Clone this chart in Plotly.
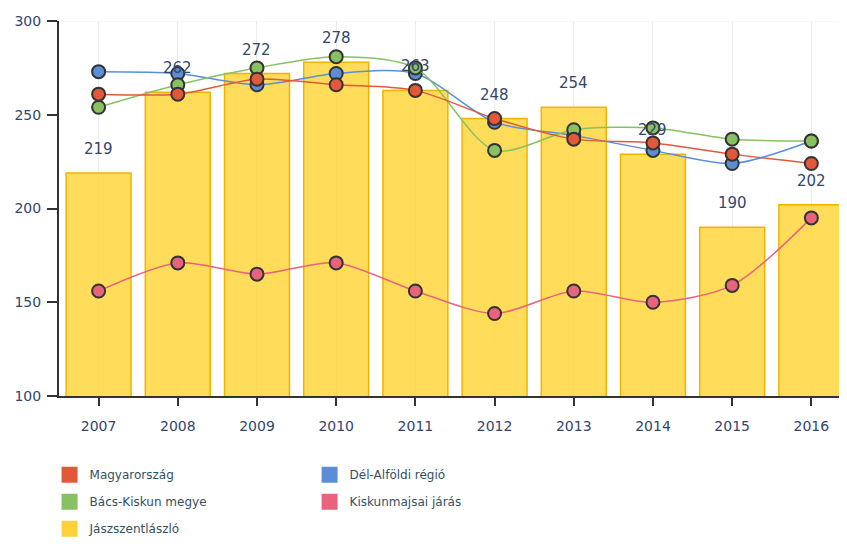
import plotly.graph_objects as go

years = ["2007", "2008", "2009", "2010", "2011", "2012", "2013", "2014", "2015", "2016"]
jasz = [219, 262, 272, 278, 263, 248, 254, 229, 190, 202]
magyar = [261, 261, 269, 266, 263, 248, 237, 235, 229, 224]
delalfold = [273, 272, 266, 272, 272, 246, 239, 231, 224, 236]
bacs = [254, 266, 275, 281, 275, 231, 242, 243, 237, 236]
kiskun = [156, 171, 165, 171, 156, 144, 156, 150, 159, 195]
y_ticks = [100, 150, 200, 250, 300]

C_RED = "#e4583a"
C_BLUE = "#5a8fd8"
C_GREEN = "#88c064"
C_PINK = "#e8647c"
C_YEL = "#ffd13a"
TXT = "#34466b"

fig = go.Figure()
fig.add_trace(go.Bar(
    x=years, y=jasz, width=0.82, showlegend=False,
    marker=dict(color="rgba(255,214,60,0.85)", line=dict(color="#f0b400", width=1.5)),
))

def line(vals, color):
    fig.add_trace(go.Scatter(
        x=years, y=vals, mode="lines+markers", showlegend=False,
        line=dict(color=color, width=1.5, shape="spline", smoothing=0.8),
        marker=dict(size=13, color=color, line=dict(color="#333333", width=2)),
        cliponaxis=False,
    ))

line(delalfold, C_BLUE)
line(bacs, C_GREEN)
line(magyar, C_RED)
line(kiskun, C_PINK)

for i, v in enumerate(jasz):
    fig.add_annotation(x=i, y=v, text=str(v), showarrow=False, yanchor="bottom",
                       yshift=13, font=dict(size=15, color=TXT, family="DejaVu Sans"))

legend_items = [
    ("Magyarország", C_RED, "legend", 1),
    ("Bács-Kiskun megye", C_GREEN, "legend", 2),
    ("Jászszentlászló", C_YEL, "legend", 3),
    ("Dél-Alföldi régió", C_BLUE, "legend2", 1),
    ("Kiskunmajsai járás", C_PINK, "legend2", 2),
]
for name, color, lg, rank in legend_items:
    fig.add_trace(go.Scatter(
        x=[None], y=[None], mode="markers", name=name, legend=lg, legendrank=rank,
        legendgroup=name,
        marker=dict(symbol="square", size=18, color=color),
    ))

fig.update_layout(
    width=839, height=536,
    margin=dict(l=51, r=0, t=13, b=148),
    plot_bgcolor="white", paper_bgcolor="white",
    font=dict(family="DejaVu Sans", color=TXT),
    bargap=0.18,
    xaxis=dict(type="category", range=[-0.5, 9.45], showgrid=True, gridcolor="#ececec",
               showline=True, linecolor="#333333", linewidth=2, automargin=False,
               ticks="outside", ticklen=8, tickcolor="#333333", tickwidth=2,
               tickfont=dict(size=14, color=TXT), ticklabelstandoff=8),
    yaxis=dict(range=[100, 300], tickvals=y_ticks, showgrid=False, zeroline=False,
               showline=True, linecolor="#333333", linewidth=2, automargin=False,
               ticks="outside", ticklen=10, tickcolor="#333333", tickwidth=2,
               tickfont=dict(size=14, color=TXT), ticklabelstandoff=3),
    legend=dict(x=-0.012, xanchor="left", y=-0.171, yanchor="top", orientation="v",
                font=dict(size=12, color="#35505e"), tracegroupgap=8, itemwidth=30),
    legend2=dict(x=0.318, xanchor="left", y=-0.171, yanchor="top", orientation="v",
                 font=dict(size=12, color="#35505e"), tracegroupgap=8, itemwidth=30),
)
fig.add_shape(type="line", xref="paper", yref="y", x0=0, x1=1, y0=300, y1=300,
              line=dict(color="#f0f0f0", width=1), layer="below")

fig.write_html("out.html")
